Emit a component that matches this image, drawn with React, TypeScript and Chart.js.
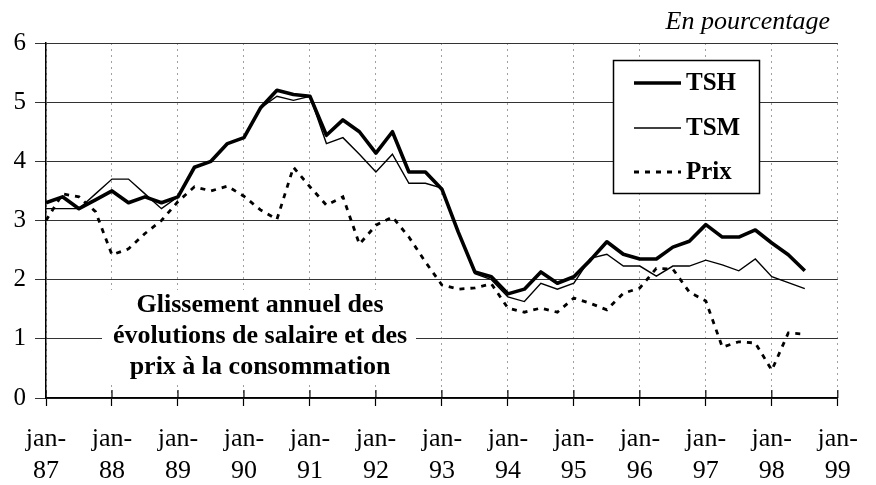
import React, { useEffect, useRef } from 'react';
import { Chart, registerables } from 'chart.js';

Chart.register(...registerables);

// Quarterly categories (jan-87 .. jan-99)
const quarters = [
  'jan-87', 'avr-87', 'juil-87', 'oct-87',
  'jan-88', 'avr-88', 'juil-88', 'oct-88',
  'jan-89', 'avr-89', 'juil-89', 'oct-89',
  'jan-90', 'avr-90', 'juil-90', 'oct-90',
  'jan-91', 'avr-91', 'juil-91', 'oct-91',
  'jan-92', 'avr-92', 'juil-92', 'oct-92',
  'jan-93', 'avr-93', 'juil-93', 'oct-93',
  'jan-94', 'avr-94', 'juil-94', 'oct-94',
  'jan-95', 'avr-95', 'juil-95', 'oct-95',
  'jan-96', 'avr-96', 'juil-96', 'oct-96',
  'jan-97', 'avr-97', 'juil-97', 'oct-97',
  'jan-98', 'avr-98', 'juil-98', 'oct-98',
  'jan-99',
];

const tsh = [
  3.3, 3.4, 3.2, 3.35, 3.5, 3.3, 3.4, 3.3,
  3.4, 3.9, 4.0, 4.3, 4.4, 4.9, 5.2, 5.13,
  5.1, 4.44, 4.7, 4.5, 4.14, 4.5, 3.82, 3.82,
  3.53, 2.8, 2.13, 2.05, 1.76, 1.84, 2.13, 1.94,
  2.05, 2.33, 2.64, 2.43, 2.35, 2.35, 2.55, 2.65,
  2.93, 2.72, 2.72, 2.84, 2.62, 2.42, 2.15,
];

const tsm = [
  3.2, 3.2, 3.2, 3.45, 3.7, 3.7, 3.45, 3.2,
  3.4, 3.9, 4.0, 4.3, 4.4, 4.9, 5.1, 5.03,
  5.1, 4.3, 4.4, 4.12, 3.82, 4.12, 3.63, 3.63,
  3.55, 2.8, 2.1, 2.0, 1.71, 1.63, 1.94, 1.84,
  1.94, 2.36, 2.43, 2.23, 2.23, 2.06, 2.23, 2.23,
  2.33, 2.25, 2.15, 2.35, 2.05, 1.95, 1.85,
];

const prix = [
  3.0, 3.45, 3.4, 3.15, 2.42, 2.52, 2.78, 3.0,
  3.32, 3.57, 3.5, 3.58, 3.41, 3.18, 3.02, 3.9,
  3.57, 3.26, 3.4, 2.6, 2.92, 3.06, 2.72, 2.3,
  1.91, 1.84, 1.86, 1.93, 1.52, 1.45, 1.52, 1.45,
  1.69, 1.6, 1.49, 1.77, 1.86, 2.19, 2.18, 1.79,
  1.64, 0.86, 0.95, 0.93, 0.47, 1.1, 1.08,
];

const seriesNames = ['TSH', 'TSM', 'Prix'];
const unitLabel = 'En pourcentage';
const noteLines = [
  'Glissement annuel des',
  'évolutions de salaire et des',
  'prix à la consommation',
];
const yMin = 0;
const yMax = 6;
const yStep = 1;

const SERIF = '"Liberation Serif", "Times New Roman", serif';

const isYearTick = (i: number) => quarters[i] !== undefined && quarters[i].startsWith('jan-');

const decorPlugin = {
  id: 'decor',
  afterDraw(chart: any) {
    const { ctx, chartArea, scales } = chart;
    const xs = scales.x;
    ctx.save();

    // tick marks crossing the x axis (upper half)
    ctx.strokeStyle = '#000';
    ctx.lineWidth = 1.2;
    quarters.forEach((_q, i) => {
      if (!isYearTick(i)) return;
      const px = xs.getPixelForValue(i);
      ctx.beginPath();
      ctx.moveTo(px, chartArea.bottom - 8);
      ctx.lineTo(px, chartArea.bottom);
      ctx.stroke();
    });

    // unit label
    ctx.fillStyle = '#000';
    ctx.font = `italic 26px ${SERIF}`;
    ctx.textAlign = 'right';
    ctx.textBaseline = 'middle';
    ctx.fillText(unitLabel, 830, 22);

    // legend box
    const bx = 613, by = 60, bw = 146, bh = 133;
    ctx.fillStyle = '#fff';
    ctx.fillRect(bx, by, bw, bh);
    ctx.strokeStyle = '#000';
    ctx.lineWidth = 1.5;
    ctx.strokeRect(bx + 0.5, by + 0.5, bw, bh);
    const rows = [83, 128, 172];
    chart.data.datasets.forEach((ds: any, i: number) => {
      const ry = rows[i];
      ctx.save();
      ctx.strokeStyle = '#000';
      ctx.lineWidth = ds.borderWidth;
      ctx.setLineDash(ds.borderDash || []);
      ctx.beginPath();
      ctx.moveTo(634, ry);
      ctx.lineTo(681, ry);
      ctx.stroke();
      ctx.restore();
      ctx.fillStyle = '#000';
      ctx.font = `bold 25px ${SERIF}`;
      ctx.textAlign = 'left';
      ctx.textBaseline = 'middle';
      ctx.fillText(ds.label, 686, ry + 1);
    });

    // note in the plot
    ctx.fillStyle = '#fff';
    ctx.fillRect(102, 290, 314, 94);
    ctx.fillStyle = '#000';
    ctx.font = `bold 26px ${SERIF}`;
    ctx.textAlign = 'center';
    ctx.textBaseline = 'middle';
    noteLines.forEach((l, i) => ctx.fillText(l, 260, 305 + i * 31));

    ctx.restore();
  },
};

export default function App() {
  const canvasRef = useRef<HTMLCanvasElement | null>(null);

  useEffect(() => {
    document.body.style.margin = '0';
    const canvas = canvasRef.current;
    if (!canvas) return;
    const chart = new Chart(canvas, {
      type: 'line',
      data: {
        labels: quarters,
        datasets: [
          {
            label: seriesNames[0],
            data: tsh,
            borderColor: '#000',
            borderWidth: 3.6,
            pointRadius: 0,
            tension: 0,
            borderJoinStyle: 'round',
            fill: false,
          },
          {
            label: seriesNames[1],
            data: tsm,
            borderColor: '#000',
            borderWidth: 1.4,
            pointRadius: 0,
            tension: 0,
            fill: false,
          },
          {
            label: seriesNames[2],
            data: prix,
            borderColor: '#000',
            borderWidth: 2.8,
            borderDash: [5, 6],
            pointRadius: 0,
            tension: 0,
            fill: false,
          },
        ],
      },
      options: {
        responsive: false,
        animation: false,
        devicePixelRatio: 1,
        layout: { padding: { top: 43, right: 34, left: 0, bottom: 0 } },
        plugins: {
          legend: { display: false },
          tooltip: { enabled: false },
          title: { display: false },
        },
        scales: {
          x: {
            type: 'category',
            offset: false,
            grid: {
              color: (c: any) => (isYearTick(c.index) ? '#a0a0a0' : 'rgba(0,0,0,0)'),
              lineWidth: 1,
              drawTicks: true,
              tickLength: 8,
              tickColor: (c: any) => (isYearTick(c.index) ? '#000' : 'rgba(0,0,0,0)'),
              tickWidth: 1.2,
              tickBorderDash: [],
            },
            border: { display: true, color: '#000', width: 1.5, dash: [2, 4] },
            ticks: {
              autoSkip: false,
              maxRotation: 0,
              minRotation: 0,
              padding: 18,
              color: '#000',
              font: { family: SERIF, size: 26, lineHeight: 1.2 },
              callback: (_v: any, i: number) => {
                const q = quarters[i];
                if (!isYearTick(i)) return '';
                return ['jan-', q.slice(4)];
              },
            },
            afterFit: (s: any) => {
              s.height = 87;
            },
          },
          y: {
            min: yMin,
            max: yMax,
            grid: {
              color: '#333',
              lineWidth: 1,
              drawTicks: true,
              tickLength: 11,
              tickColor: '#333',
            },
            border: { display: true, color: '#000', width: 1.5 },
            ticks: {
              stepSize: yStep,
              padding: 9,
              color: '#000',
              font: { family: SERIF, size: 25 },
            },
            afterFit: (s: any) => {
              s.width = 46;
            },
          },
        },
      },
      plugins: [decorPlugin],
    } as any);
    return () => chart.destroy();
  }, []);

  return (
    <div style={{ position: 'absolute', left: 0, top: 0, width: 876, height: 485, background: '#fff' }}>
      <canvas ref={canvasRef} width={876} height={485} />
    </div>
  );
}
